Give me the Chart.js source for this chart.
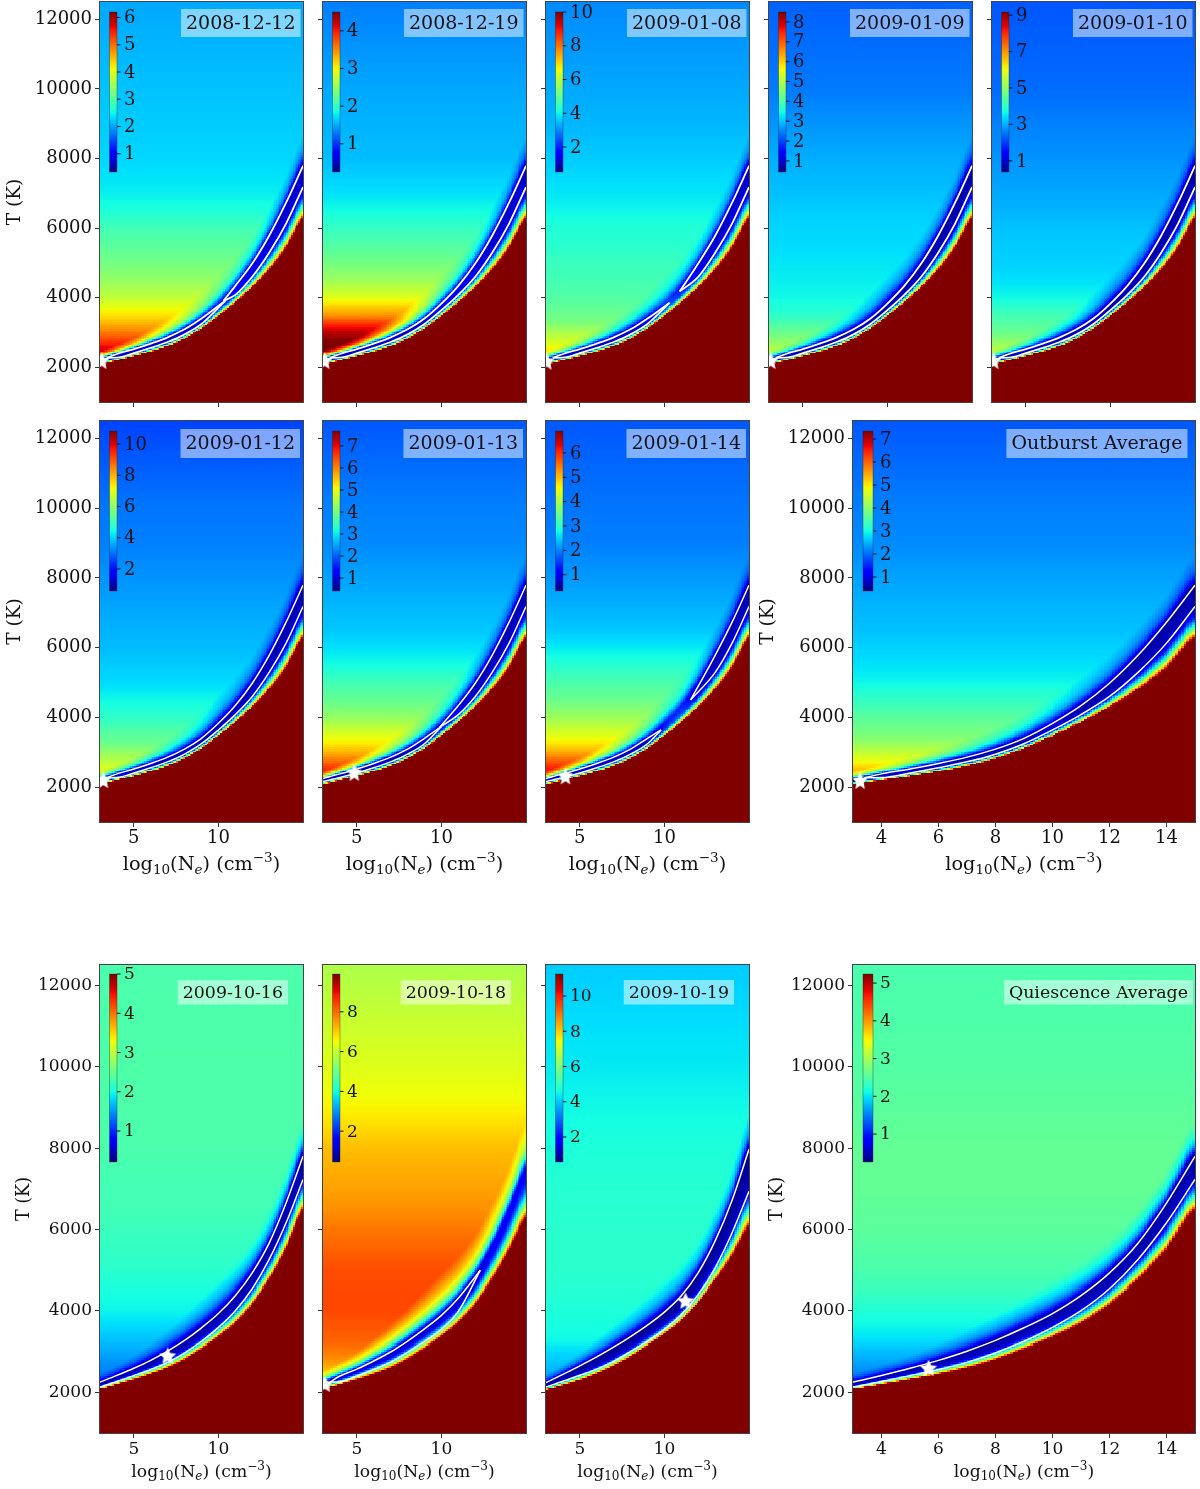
<!DOCTYPE html>
<html>
<head>
<title>Temperature and density maps</title>
<script src="https://cdn.jsdelivr.net/npm/chart.js"></script>
<style>
	body { margin: 0; background: #fff; }
	#page { position: relative; width: 1200px; height: 1489px; overflow: hidden; }
	#page canvas { position: absolute; }
</style>
</head>
<body>
<div id="page"></div>
<script>
// values ---------------------------------------------------------------------
const names = ['2008-12-12','2008-12-19','2009-01-08','2009-01-09','2009-01-10','2009-01-12','2009-01-13','2009-01-14','Outburst Average','2009-10-16','2009-10-18','2009-10-19','Quiescence Average'];
const yTicks = [2000,4000,6000,8000,10000,12000];
const xTicksNarrow = [5,10];
const xTicksWide = [4,6,8,10,12,14];

// colour bar range and labelled ticks of each panel
const barRange = [[.33,6.2],[.25,4.5],[.52,10],[.44,8.5],[.39,9.17],[.59,10.83],[.41,7.68],[.33,6.9],[.39,7.35],[.21,5],[.45,9.9],[.58,11.25],[.26,5.24]];
const barTicks = [[1,2,3,4,5,6],[1,2,3,4],[2,4,6,8,10],[1,2,3,4,5,6,7,8],[1,3,5,7,9],[2,4,6,8,10],[1,2,3,4,5,6,7],[1,2,3,4,5,6],[1,2,3,4,5,6,7],[1,2,3,4,5],[2,4,6,8],[2,4,6,8,10],[1,2,3,4,5]];

// best fit position of each panel [log Ne, T]
const stars = [[3.1,2170],[3.1,2170],[3.05,2150],[3.1,2170],[3.1,2170],[3.2,2190],[4.85,2400],[4.15,2300],[3.25,2172],[7,2880],[3.1,2190],[11.25,4230],[5.65,2580]];

// value away from the valley, one row per panel, at profileT
const profileT = [2000,2250,2500,2750,3000,3250,3500,4000,4500,5000,5500,6000,6500,7000,8000,9000,10000,12500];
const profiles = [
	[5.97,5.97,5.79,5.32,4.91,4.56,4.26,3.76,3.44,3.21,3.03,2.85,2.59,2.44,2.30,2.24,2.18,2.03],
	[4.5,4.5,4.5,4.5,4.29,3.9,3.44,2.89,2.55,2.33,2.16,2.01,1.84,1.72,1.57,1.53,1.48,1.31],
	[7.25,7.25,6.78,6.21,5.83,5.3,5.07,4.79,4.6,4.5,4.3,4.22,4.0,3.84,3.6,3.4,3.27,2.98],
	[5.36,5.36,5.03,4.63,4.31,3.99,3.7,3.42,3.34,3.26,3.18,3.14,3.06,2.98,2.82,2.62,2.41,2.21],
	[5.83,5.83,5.39,4.96,4.6,4.38,4.17,3.64,3.42,3.29,3.24,3.16,3.02,2.94,2.76,2.59,2.41,2.23],
	[7.25,7.25,6.94,6.43,6.02,5.5,5.3,4.74,4.38,4.07,3.92,3.76,3.66,3.56,3.35,3.15,3.05,2.54],
	[7.32,7.32,6.73,6.15,5.64,5.21,4.92,4.26,3.83,3.54,3.14,2.92,2.74,2.66,2.48,2.3,2.23,1.94],
	[6.64,6.64,6.18,5.65,5.13,4.7,4.4,3.88,3.48,3.22,2.93,2.66,2.44,2.33,2.14,1.97,1.91,1.71],
	[5.89,5.89,5.33,4.77,4.46,4.1,3.87,3.59,3.25,2.95,2.8,2.69,2.58,2.51,2.37,2.2,2.13,1.85],
	[1.26,1.26,1.41,1.5,1.6,1.7,1.79,1.96,2.03,2.13,2.18,2.22,2.27,2.27,2.32,2.34,2.34,2.32],
	[6.6,6.6,7.07,7.54,7.82,8.06,8.15,8.34,8.34,8.29,8.08,7.87,7.6,7.44,7.16,6.59,6.31,5.74],
	[3.46,3.46,3.78,3.99,4.21,4.5,4.58,4.69,4.79,4.85,4.85,4.85,4.82,4.79,4.69,4.53,4.37,4.05],
	[1.41,1.41,1.55,1.7,1.8,1.95,2.05,2.2,2.35,2.45,2.5,2.55,2.57,2.6,2.6,2.55,2.5,2.45]
];

// log Ne grid of the curves below
const curveNe = [3,4,5,6,7,8,9,10,11,12,13,14,15];

// lowest value along the valley of each panel, at curveNe
const valleys = [
	[.56,.51,.51,.51,.51,.56,.68,1.15,.86,.74,.68,.62,.62],
	[.42,.38,.38,.38,.38,.42,.46,.59,.55,.51,.46,.46,.46],
	[.99,.9,.8,.8,.8,.9,1.09,2.13,1.75,1.18,.99,.99,.99],
	[.6,.6,.6,.6,.6,.6,.6,.6,.6,.6,.6,.6,.6],
	[.57,.57,.57,.57,.57,.57,.57,.57,.57,.57,.57,.57,.57],
	[.9,.9,.9,.9,.9,.9,.9,.9,.9,.9,.9,.9,.9],
	[.63,.63,.63,.63,.63,.63,.85,1.28,.85,.63,.63,.63,.63],
	[.53,.53,.53,.53,.53,.53,.66,1.18,1.32,.72,.53,.53,.53],
	[.53,.53,.53,.53,.53,.53,.53,.7,.53,.53,.53,.53,.53],
	[.25,.25,.25,.25,.25,.25,.25,.25,.25,.25,.25,.25,.25],
	[.73,.73,.73,.73,.73,.73,.73,.73,.73,.73,1.1,1.2,1.3],
	[.62,.62,.62,.62,.62,.62,.62,.62,.62,.62,.62,.62,.62],
	[.3,.3,.3,.3,.3,.3,.3,.3,.3,.3,.3,.3,.3]
];

// start of the saturated zone and the two white contours, at curveNe
const edgeOut  = [2090,2200,2320,2445,2600,2820,3110,3470,3860,4290,4800,5430,6280];
const lowerOut = [2160,2275,2405,2555,2725,2945,3245,3640,4080,4600,5290,6130,7180];
const upperOut = [2250,2380,2520,2680,2860,3090,3400,3830,4340,4980,5780,6730,7790];
const edgeQ    = [2080,2190,2315,2450,2605,2810,3070,3360,3700,4160,4770,5530,6480];
const lowerQ   = [2130,2265,2410,2560,2735,2965,3255,3595,4005,4545,5265,6165,7230];
const upperQ   = [2250,2415,2590,2785,3010,3275,3585,3935,4375,4935,5665,6650,7800];
const edge19   = [2060,2170,2300,2460,2650,2880,3150,3430,3760,4200,4750,5350,6070];
const lower19  = [2130,2270,2420,2570,2760,3000,3260,3550,3910,4400,5060,5920,6940];
const upper19  = [2240,2440,2650,2870,3110,3370,3650,3970,4370,4940,5720,6720,7970];
const edge18   = [2080,2190,2315,2450,2605,2820,3080,3370,3710,4160,4770,5490,6280];
const lower18  = [2130,2260,2400,2560,2740,2980,3250,3550,3990,4640,5300,6150,7000];
const upper18  = [2240,2400,2570,2770,2990,3260,3560,3890,4310,4850,5600,6500,7500];
const curveSet = [0,0,0,0,0,0,0,0,0,1,3,2,1];
const edges  = [edgeOut, edgeQ, edge19, edge18];
const lowers = [lowerOut, lowerQ, lower19, lower18];
const uppers = [upperOut, upperQ, upper19, upper18];

// how far above the upper contour the halo of the valley reaches, at curveNe
const haloT = [220,260,320,420,520,620,720,800,800,800,800,800,850];
const haloWide = [1,1,1,1,1,1,1,1,1,1,1.3,1,1];

// pieces of the white contours: [from Ne, tip T or null, to Ne, tip T or null]
const pieces = [
	[[3.4,2270,10.4,3910],[10.3,3910,15,null]],
	[[3.4,2270,15,null]],
	[[3.4,2270,10.3,3850],[10.9,4180,15,null]],
	[[3.4,2270,15,null]],
	[[3.4,2270,15,null]],
	[[3.4,2270,15,null]],
	[[3,null,10,3740],[9.9,3720,15,null]],
	[[3,null,9.8,3640],[11.55,4500,15,null]],
	[[3.4,2270,15,null]],
	[[3,null,15,null]],
	[[3.4,2250,12.3,5000]],
	[[3,null,15,null]],
	[[3,null,15,null]]
];

// shape of the walls of the valley
const fallU = [0,.02,.07,.14,.22,.33,.4,.5,1];
const fallK = [1,.92,.72,.55,.4,.22,.12,.05,0];
const riseU = [0,.08,.2,.35,.55,.8,1];
const riseK = [0,.15,.4,.65,.82,.93,1];
const fallWide = [1,1,1,1,1,1,1,1,1,1.2,1.5,1,1.2];

// layout ---------------------------------------------------------------------
const colsNarrow = [[100,303],[323,526],[546,749],[769,972],[992,1195]];
const colWide = [853,1195];
const rows = [
	{top:2,bottom:402,font:18,boxTop:7,boxH:28,boxFont:19,boxRight:2.5,barTop:12,barBottom:172,titlePad:4},
	{top:421,bottom:822,font:18,boxTop:8,boxH:29,boxFont:19,boxRight:3,barTop:431,barBottom:591,titlePad:4},
	{top:965,bottom:1433,font:17,boxTop:15,boxH:24.5,boxFont:17.4,boxRight:15,barTop:974,barBottom:1162,titlePad:14}
];
const panelPlace = [
	[0,0],[0,1],[0,2],[0,3],[0,4],
	[1,0],[1,1],[1,2],[1,'w'],
	[2,0],[2,1],[2,2],[2,'w']
];

const serif = '"DejaVu Serif", "Liberation Serif", serif';
const ink = '#111';

function jet(f) {
	f = Math.max(0, Math.min(1, f));
	const ramp = (xs, ys) => Math.round(255 * lookup(xs, ys, f));
	const r = ramp([0,.35,.66,.89,1], [0,0,1,1,.5]);
	const g = ramp([0,.125,.375,.64,.91,1], [0,0,1,1,0,0]);
	const b = ramp([0,.11,.34,.65,1], [.5,1,1,0,0]);
	return 'rgb(' + r + ',' + g + ',' + b + ')';
}

function lookup(xs, ys, x) {
	if (x <= xs[0]) return ys[0];
	for (let i = 1; i < xs.length; i++) {
		if (x <= xs[i]) return ys[i-1] + (ys[i]-ys[i-1]) * (x-xs[i-1]) / (xs[i]-xs[i-1]);
	}
	return ys[ys.length-1];
}

// curve value between the read points, smooth so the band has no corners
function curveAt(ys, ne) {
	const i = Math.max(0, Math.min(ys.length-2, Math.floor(ne - curveNe[0])));
	const t = ne - curveNe[i];
	const p0 = ys[Math.max(i-1,0)], p1 = ys[i], p2 = ys[i+1], p3 = ys[Math.min(i+2,ys.length-1)];
	return p1 + .5*t*(p2-p0 + t*(2*p0-5*p1+4*p2-p3 + t*(3*(p1-p2)+p3-p0)));
}

const heatPlugin = {
	id: 'heat',
	beforeDatasetsDraw(chart, args, opts) {
		const i = opts.panel, ctx = chart.ctx, xs = chart.scales.x, ys = chart.scales.y;
		const set = curveSet[i], range = barRange[i], span = range[1]-range[0];
		const stepNe = .1, stepT = 50;
		ctx.save();
		for (let c = 0; c < 120; c++) {
			const ne = 3 + c*stepNe + stepNe/2;
			const e = curveAt(edges[set], ne), top = curveAt(uppers[set], ne);
			const floor = curveAt(valleys[i], ne);
			const halo = curveAt(haloT, ne)*haloWide[i];
			const x0 = Math.round(xs.getPixelForValue(3 + c*stepNe));
			const x1 = Math.round(xs.getPixelForValue(3 + (c+1)*stepNe));
			for (let r = 0; r < 230; r++) {
				const T = 1000 + r*stepT + stepT/2;
				const u = (T-e)/(top-e);
				let v;
				if (u < 0) v = range[1];
				else if (u < 1) v = floor + lookup(fallU, fallK, u/fallWide[i])*(range[1]-floor);
				else v = floor + lookup(riseU, riseK, (T-top)/halo)*(lookup(profileT, profiles[i], T)-floor);
				const y0 = Math.round(ys.getPixelForValue(1000 + r*stepT));
				const y1 = Math.round(ys.getPixelForValue(1000 + (r+1)*stepT));
				ctx.fillStyle = jet((v-range[0])/span);
				ctx.fillRect(x0, y1, x1-x0, y0-y1);
			}
		}
		ctx.restore();
	}
};

const dressPlugin = {
	id: 'dress',
	afterDatasetsDraw(chart, args, opts) {
		const i = opts.panel, ctx = chart.ctx, a = chart.chartArea, row = rows[panelPlace[i][0]];
		const wide = panelPlace[i][1] === 'w';
		ctx.save();
		// colour bar
		const bx = a.left + (wide ? 10 : 9.5), bw = wide ? 10 : 7.5;
		const bt = row.barTop - row.top + a.top, bb = row.barBottom - row.top + a.top;
		for (let y = bt; y < bb; y++) {
			ctx.fillStyle = jet((bb-y-.5)/(bb-bt));
			ctx.fillRect(bx, y, bw, 1);
		}
		ctx.strokeStyle = 'rgba(30,30,30,.6)';
		ctx.lineWidth = .6;
		ctx.strokeRect(bx, bt, bw, bb-bt);
		ctx.fillStyle = ink;
		ctx.font = row.font + 'px ' + serif;
		ctx.textBaseline = 'middle';
		ctx.textAlign = 'left';
		const range = barRange[i];
		barTicks[i].forEach(function(t) {
			const y = bb - (t-range[0])/(range[1]-range[0])*(bb-bt);
			ctx.fillRect(bx+bw, y-.5, 3.5, 1);
			ctx.fillText(String(t), bx+bw+7, y+1);
		});
		// date box
		ctx.font = row.boxFont + 'px ' + serif;
		const tw = ctx.measureText(names[i]).width;
		const right = a.right - ((wide && row === rows[2]) ? 2 : (wide ? 7.5 : row.boxRight));
		const boxTop = a.top + row.boxTop;
		ctx.fillStyle = 'rgba(255,255,255,.5)';
		ctx.fillRect(right-tw-10, boxTop, tw+10, row.boxH);
		ctx.fillStyle = ink;
		ctx.textAlign = 'center';
		ctx.fillText(names[i], right-5-tw/2, boxTop+row.boxH/2+1);
		// frame
		ctx.strokeStyle = '#444';
		ctx.lineWidth = 1;
		ctx.strokeRect(a.left-.5, a.top-.5, a.right-a.left+1, a.bottom-a.top+1);
		// x label, has a sub and a superscript so it is set piece by piece
		if (row !== rows[0]) {
			drawXLabel(ctx, (a.left+a.right)/2, a.bottom + (row === rows[1] ? 48 : 44), row === rows[1] ? 19.3 : 17.2);
		}
		ctx.restore();
	}
};

function drawXLabel(ctx, cx, base, size) {
	const small = size*.7;
	const parts = [
		['log', size, 0, ''], ['10', small, size*.2, ''], ['(N', size, 0, ''], ['e', small, size*.2, 'italic '],
		[') (cm', size, 0, ''], ['\u22123', small, -size*.4, ''], [')', size, 0, '']
	];
	let w = 0;
	parts.forEach(function(p) { ctx.font = p[3] + p[1] + 'px ' + serif; w += ctx.measureText(p[0]).width; });
	let x = cx - w/2;
	ctx.fillStyle = ink;
	ctx.textAlign = 'left';
	ctx.textBaseline = 'alphabetic';
	parts.forEach(function(p) {
		ctx.font = p[3] + p[1] + 'px ' + serif;
		ctx.fillText(p[0], x, base + p[2]);
		x += ctx.measureText(p[0]).width;
	});
}

function makeStar(w, h) {
	const c = document.createElement('canvas');
	c.width = w; c.height = h;
	const g = c.getContext('2d');
	g.fillStyle = '#fff';
	g.beginPath();
	for (let k = 0; k < 10; k++) {
		const rad = k % 2 ? .48 : 1, ang = -Math.PI/2 + k*Math.PI/5;
		g.lineTo(w/2 + w/2*rad*Math.cos(ang), h/2 + h/2*rad*Math.sin(ang));
	}
	g.closePath();
	g.fill();
	return c;
}

function contourData(i, ys, piece) {
	const pts = [];
	if (piece[1] !== null) pts.push({x: piece[0], y: piece[1]});
	curveNe.forEach(function(ne, k) {
		if (ne >= piece[0] + (piece[1] !== null ? .5 : 0) && ne <= piece[2] - (piece[3] !== null ? .5 : 0)) pts.push({x: ne, y: ys[k]});
	});
	if (piece[3] !== null) pts.push({x: piece[2], y: piece[3]});
	return pts;
}

function buildPanel(i) {
	const place = panelPlace[i], row = rows[place[0]], wide = place[1] === 'w';
	const col = wide ? colWide : colsNarrow[place[1]];
	const hasY = wide || place[1] === 0, hasX = place[0] > 0;
	const L = hasY ? 100 : 8, R = 4, T = Math.min(row.top, 6), B = 62;

	const canvas = document.createElement('canvas');
	canvas.width = col[1]-col[0]+L+R;
	canvas.height = row.bottom-row.top+T+B;
	canvas.style.left = (col[0]-L) + 'px';
	canvas.style.top = (row.top-T) + 'px';
	document.getElementById('page').appendChild(canvas);

	const star = place[0] === 2 ? makeStar(18, 18) : makeStar(16, 19);
	const datasets = [{data: [{x: stars[i][0], y: stars[i][1]}], pointStyle: star, pointRadius: 10, showLine: false}];
	pieces[i].forEach(function(piece) {
		[uppers[curveSet[i]], lowers[curveSet[i]]].forEach(function(ys) {
			datasets.push({
				data: contourData(i, ys, piece), showLine: true, borderColor: '#fff',
				borderWidth: place[0] === 0 ? 1.8 : 1.5, pointRadius: 0, cubicInterpolationMode: 'monotone', fill: false
			});
		});
	});

	const noOverflow = function(s) { s.paddingTop = 0; s.paddingBottom = 0; s.paddingLeft = 0; s.paddingRight = 0; };

	new Chart(canvas, {
		type: 'scatter',
		data: {datasets: datasets},
		plugins: [heatPlugin, dressPlugin],
		options: {
			responsive: false,
			animation: false,
			devicePixelRatio: 1,
			layout: {autoPadding: false, padding: {top: T, right: R, left: 0, bottom: 0}},
			plugins: {
				legend: {display: false},
				tooltip: {enabled: false},
				heat: {panel: i},
				dress: {panel: i}
			},
			scales: {
				x: {
					type: 'linear', min: 3, max: 15,
					afterBuildTicks: function(s) { s.ticks = (wide ? xTicksWide : xTicksNarrow).map(function(v) { return {value: v}; }); },
					afterFit: function(s) { s.height = B; noOverflow(s); },
					border: {display: false},
					grid: {drawOnChartArea: false, drawTicks: true, tickLength: 5, tickColor: '#333'},
					ticks: {
						display: hasX, autoSkip: false, maxRotation: 0, padding: 1, color: ink,
						font: {family: serif, size: row.font}
					}
				},
				y: {
					type: 'linear', min: 1000, max: 12500,
					afterBuildTicks: function(s) { s.ticks = yTicks.map(function(v) { return {value: v}; }); },
					afterFit: function(s) { s.width = L; noOverflow(s); },
					border: {display: false},
					grid: {drawOnChartArea: false, drawTicks: true, tickLength: 5, tickColor: '#333'},
					title: {display: hasY, text: 'T (K)', color: ink, font: {family: serif, size: row.font + .6}, padding: {top: row.titlePad, bottom: 0}},
					ticks: {
						display: hasY, autoSkip: false, padding: 3, color: ink,
						font: {family: serif, size: row.font},
						callback: function(v) { return String(v); }
					}
				}
			}
		}
	});
}

names.forEach(function(n, i) { buildPanel(i); });
</script>
</body>
</html>
